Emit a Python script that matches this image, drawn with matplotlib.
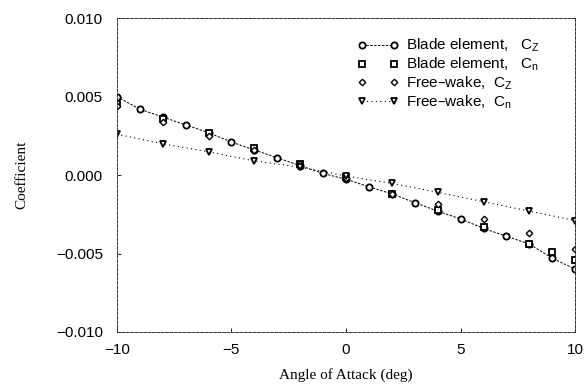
import matplotlib
matplotlib.use("Agg")
import matplotlib.pyplot as plt

# Blade element, C_Z (circles, every degree)
alpha_be = [-10, -9, -8, -7, -6, -5, -4, -3, -2, -1, 0, 1, 2, 3, 4, 5, 6, 7, 8, 9, 10]
cz_be = [0.0050, 0.0042, 0.0037, 0.0032, 0.0027, 0.0021, 0.0016, 0.0011, 0.0006, 0.0001,
         -0.00027, -0.00075, -0.0012, -0.00176, -0.0023, -0.0028, -0.0034, -0.0039,
         -0.0044, -0.0053, -0.0060]

# Blade element, C_n (squares)
alpha_be_n = [-10, -8, -6, -4, -2, 0, 2, 4, 6, 8, 9, 10]
cn_be = [0.0045, 0.0036, 0.0027, 0.0017, 0.0007, -0.0001, -0.0012, -0.0022, -0.0033,
         -0.0044, -0.0049, -0.0054]

# Free-wake, C_Z (diamonds)
alpha_fw = [-10, -8, -6, -4, -2, 0, 2, 4, 6, 8, 10]
cz_fw = [0.0044, 0.0034, 0.0025, 0.0016, 0.0007, -0.0002, -0.0012, -0.00185, -0.0028,
         -0.0037, -0.0047]

# Free-wake, C_n (triangles)
cn_fw = [0.0026, 0.0020, 0.00148, 0.0009, 0.0005, -0.00006, -0.00053, -0.0011, -0.0017,
         -0.0023, -0.0029]

xticks = [-10, -5, 0, 5, 10]
yticks = [-0.010, -0.005, 0.000, 0.005, 0.010]

sans = ["Liberation Sans", "DejaVu Sans"]
serif = ["Liberation Serif", "DejaVu Serif"]

fig = plt.figure(figsize=(5.87, 3.86), dpi=100)
ax = fig.add_axes([0.199, 0.140, 0.781, 0.813])

ms = 4.5
ax.plot(alpha_be, cz_be, color="black", linestyle=(0, (2.5, 1.5)), linewidth=0.7,
        marker="o", markersize=ms, markerfacecolor="white", markeredgewidth=1.3,
        label="Blade element,   $\\mathregular{C_Z}$")
ax.plot(alpha_be_n, cn_be, color="black", linestyle="none",
        marker="s", markersize=ms - 0.5, markerfacecolor="white", markeredgewidth=1.3,
        label="Blade element,   $\\mathregular{C_n}$")
ax.plot(alpha_fw, cz_fw, color="black", linestyle="none",
        marker="D", markersize=ms - 1.2, markerfacecolor="white", markeredgewidth=1.0,
        label="Free\u2013wake,  $\\mathregular{C_Z}$")
ax.plot(alpha_fw, cn_fw, color="black", linestyle=(0, (1, 3)), linewidth=0.8,
        marker="v", markersize=ms + 0.5, markerfacecolor="white", markeredgewidth=1.3,
        label="Free\u2013wake,  $\\mathregular{C_n}$")

ax.set_xlim(-10, 10)
ax.set_ylim(-0.010, 0.010)
ax.set_xticks(xticks)
ax.set_yticks(yticks)
ax.set_xticklabels([f"{v:g}".replace("-", "\u2212") for v in xticks], family=sans, fontsize=11)
ax.set_yticklabels([f"{v:.3f}".replace("-", "\u2212") for v in yticks], family=sans, fontsize=11)
ax.tick_params(direction="in", length=3, width=0.6)
ax.tick_params(axis="y", pad=10)
ax.tick_params(axis="x", pad=8)

for sp in ax.spines.values():
    sp.set_linestyle((0, (3, 1.5)))
    sp.set_linewidth(0.7)
    sp.set_color("#333333")

ax.set_xlabel("Angle of Attack (deg)", family=serif, fontsize=11, labelpad=8)
ax.set_ylabel("Coefficient", family=serif, fontsize=11, labelpad=20)

leg = ax.legend(loc="upper left", bbox_to_anchor=(0.525, 0.94), frameon=False,
                numpoints=2, handlelength=2.7, handletextpad=0.45, labelspacing=0.1,
                prop={"family": sans, "size": 11}, borderaxespad=0.0, borderpad=0.0)

fig.savefig("out.png", dpi=100)
